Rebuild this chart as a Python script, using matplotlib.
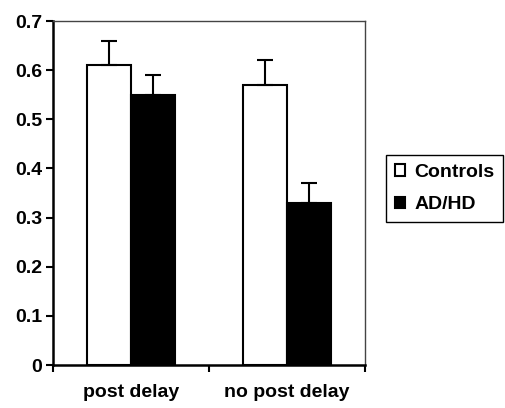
import numpy as np
import matplotlib.pyplot as plt

categories = ['post delay', 'no post delay']
controls = [0.61, 0.57]
controls_err = [0.05, 0.05]
adhd = [0.55, 0.33]
adhd_err = [0.04, 0.04]

plt.rcParams['font.family'] = ['Liberation Sans', 'DejaVu Sans']
plt.rcParams['font.weight'] = 'bold'

fig = plt.figure(figsize=(5.06, 4.08), dpi=100)
ax = fig.add_axes([53/506, 1-365/408, (365-53)/506, (365-21)/408])

x = np.arange(len(categories))
w = 0.28
ax.bar(x - w/2, controls, w, color='white', edgecolor='black', linewidth=1.5, label='Controls',
       yerr=[np.zeros(2), controls_err], capsize=6, error_kw=dict(elinewidth=1.5, capthick=1.5))
ax.bar(x + w/2, adhd, w, color='black', edgecolor='black', linewidth=1.5, label='AD/HD',
       yerr=[np.zeros(2), adhd_err], capsize=6, error_kw=dict(elinewidth=1.5, capthick=1.5))

ax.set_xlim(-0.5, 1.5)
ax.set_ylim(0, 0.7)
ax.set_yticks(np.arange(0, 0.71, 0.1))
ax.set_yticklabels(['0', '0.1', '0.2', '0.3', '0.4', '0.5', '0.6', '0.7'], fontsize=14, fontweight='bold')
ax.set_xticks([-0.5, 0.5, 1.5])
ax.set_xticklabels(['', '', ''])
ax.set_xticks(x, minor=True)
ax.set_xticklabels(categories, minor=True, fontsize=14, fontweight='bold')
ax.tick_params(axis='x', which='minor', length=0, pad=14)
ax.tick_params(axis='x', which='major', length=5, width=1.5, direction='out')
ax.tick_params(axis='y', length=5, width=1.5, direction='out', pad=3)

for s in ['left', 'bottom']:
    ax.spines[s].set_linewidth(1.8)
for s in ['top', 'right']:
    ax.spines[s].set_linewidth(1.0)
    ax.spines[s].set_color('#444444')

fig.legend(loc='upper left', bbox_to_anchor=(386/506, 1-155/408), bbox_transform=fig.transFigure,
           borderaxespad=0, fancybox=False, edgecolor='black', framealpha=1,
           prop=dict(size=14, weight='bold'), handlelength=0.55, handleheight=0.55, handletextpad=0.45,
           borderpad=0.45, labelspacing=0.8)

plt.savefig('out.png', dpi=100)
